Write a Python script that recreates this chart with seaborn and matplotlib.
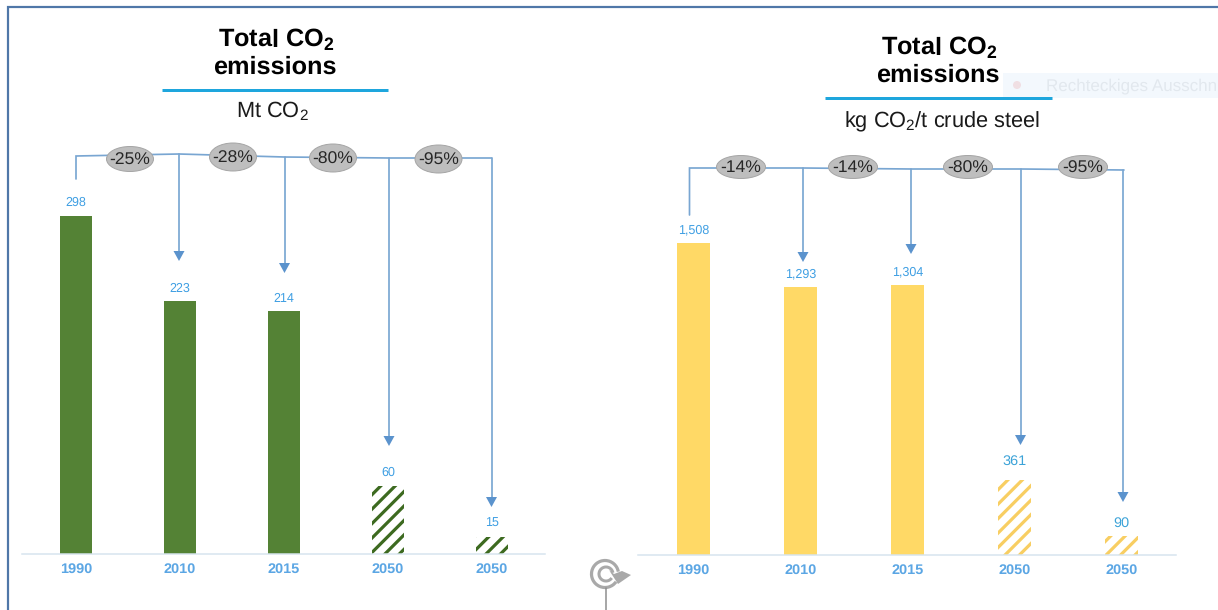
import matplotlib
matplotlib.use("Agg")
import matplotlib.pyplot as plt
from matplotlib.patches import Ellipse, Polygon, Rectangle, Arc
import pandas as pd
import seaborn as sns

# Chart values
years = ["1990", "2010", "2015", "2050", "2050"]
total_mt = [298, 223, 214, 60, 15]
total_labels = ["298", "223", "214", "60", "15"]
intensity_kg = [1508, 1293, 1304, 361, 90]
intensity_labels = ["1,508", "1,293", "1,304", "361", "90"]
is_target = [False, False, False, True, True]
left_changes = ["-25%", "-28%", "-80%", "-95%"]
right_changes = ["-14%", "-14%", "-80%", "-95%"]

W, H, DPI = 1218, 610, 130
BLUE_TEXT = "#3f9fe3"
TICK_BLUE = "#5ba6e4"
LINE_BLUE = "#79a6d2"
HEAD_BLUE = "#5b93cd"
RULE_BLUE = "#1ea6dd"


def pt(px):
    """Convert a size in pixels to points at the figure resolution."""
    return px * 72 / DPI


sns.set_theme(style="white")
plt.rcParams["font.family"] = ["Liberation Sans", "DejaVu Sans"]
plt.rcParams["mathtext.default"] = "regular"
plt.rcParams["hatch.linewidth"] = pt(3.2)
plt.rcParams["text.hinting"] = "no_hinting"

fig = plt.figure(figsize=(W / DPI, H / DPI), dpi=DPI, facecolor="white")


def bar_panel(values, labels, solid, stripe, px_per_unit, first_px, step_px,
              x0, x1, base, top, bar_px, big_targets):
    ax = fig.add_axes([x0 / W, 1 - base / H, (x1 - x0) / W, (base - top) / H])
    df = pd.DataFrame({"slot": range(len(values)), "value": values})
    sns.barplot(data=df, x="slot", y="value", color=solid, saturation=1,
                width=bar_px / step_px, ax=ax, linewidth=0)
    ax.set_xlim((x0 - first_px) / step_px, (x1 - first_px) / step_px)
    ax.set_ylim(0, (base - top) / px_per_unit)
    for patch, target in zip(ax.patches, is_target):
        if target:
            patch.set_facecolor("white")
            patch.set_edgecolor(stripe)
            patch.set_hatch("///")
            patch.set_linewidth(0)
    texts = ax.bar_label(ax.containers[0], labels=labels, padding=pt(7),
                         color=BLUE_TEXT, fontsize=pt(12.5))
    if big_targets:
        for t, target in zip(texts, is_target):
            if target:
                t.set_fontsize(pt(14.5))
                t.set_color("#3ca3d8")
        texts[3].xyann = (0, pt(13))
    ax.set_xticks(range(len(years)))
    ax.set_xticklabels(years, fontsize=pt(14.5), fontweight="bold", color=TICK_BLUE)
    ax.tick_params(axis="x", length=0, pad=pt(8.5))
    ax.set_xlabel("")
    ax.set_ylabel("")
    ax.set_yticks([])
    sns.despine(ax=ax, left=True)
    ax.spines["bottom"].set_color("#d6e4ef")
    ax.spines["bottom"].set_linewidth(pt(1.5))
    ax.patch.set_alpha(0)
    return ax


bar_panel(total_mt, total_labels, "#548235", "#3d6a20", 1.134, 76, 104,
          22, 545, 554, 190, 32.5, False)
bar_panel(intensity_kg, intensity_labels, "#ffd966", "#f8ce62", 0.207, 693.5, 107,
          638, 1176, 555, 200, 33.5, True)

# Pixel-addressed layer for frame, headings and reduction connectors
ov = fig.add_axes([0, 0, 1, 1], zorder=5)
ov.set_xlim(0, W)
ov.set_ylim(H, 0)
ov.axis("off")
ov.patch.set_alpha(0)

# Outer frame
ov.plot([8, 8, W], [H, 7, 7], color="#4f77a8", lw=pt(2.2), solid_joinstyle="miter")

# Faint selection hint in the top right corner
ov.add_patch(Rectangle((1003, 73), 215, 25, facecolor="#f3f8fd", edgecolor="none", zorder=0))
ov.add_patch(Ellipse((1017, 85), 8, 8, facecolor="#f0dfe3", edgecolor="none", zorder=1))
ov.text(1046, 86, "Rechteckiges Ausschn", fontsize=pt(17), color="#e2e8ee",
        va="center", ha="left", zorder=1, clip_on=True)


def heading(cx, y1, y2, rule, rule_y, sub, sub_y, sub_shift):
    ov.text(cx + 1, y1, "Total CO$_2$", ha="center", va="baseline", fontsize=pt(25.2),
            fontweight="bold", color="black")
    ov.text(cx, y2, "emissions", ha="center", va="baseline", fontsize=pt(25.2),
            fontweight="bold", color="black")
    ov.plot(rule, [rule_y, rule_y], color=RULE_BLUE, lw=pt(3), solid_capstyle="butt", zorder=6)
    ov.text(cx + sub_shift, sub_y, sub, ha="center", va="baseline", fontsize=pt(21.8), color="#1a1a1a")


heading(275, 47, 74, [162, 388], 90, "Mt CO$_2$", 117, -3)
heading(938, 55, 82, [825, 1052], 98, "kg CO$_2$/t crude steel", 127, 4)


def connector(trunk_x, trunk_y, path, drops, bubbles, changes, bubble_w, bubble_hs):
    ov.plot([trunk_x, trunk_x, *[p[0] for p in path]],
            [trunk_y, path[0][1], *[p[1] for p in path]],
            color=LINE_BLUE, lw=pt(1.7), solid_joinstyle="miter", zorder=6)
    for (x, y0, tip) in drops:
        ov.plot([x, x], [y0, tip - 9], color=LINE_BLUE, lw=pt(1.7), zorder=6)
        ov.add_patch(Polygon([(x - 5.5, tip - 10), (x + 5.5, tip - 10), (x, tip)],
                             closed=True, facecolor=HEAD_BLUE, edgecolor="none", zorder=6))
    for (cx, cy), text, bh in zip(bubbles, changes, bubble_hs):
        ov.add_patch(Ellipse((cx, cy), bubble_w, bh, facecolor="#bebebe",
                             edgecolor="#a6a6a6", lw=pt(1), zorder=7))
        ov.text(cx, cy + 1, text, ha="center", va="center", fontsize=pt(17.5),
                color="#262626", zorder=8)


connector(76, 179,
          [(76, 156), (179, 154), (284, 157), (389, 158), (491.5, 158)],
          [(179, 154, 261), (284.5, 157, 273), (389, 158, 446), (491.5, 158, 507)],
          [(130, 159), (233, 157), (333, 158), (438.5, 159)], left_changes, 47, [25, 28, 28, 28])
connector(689.5, 215,
          [(689.5, 168), (803, 168), (911, 169), (1021, 169), (1124, 170)],
          [(803, 168, 262), (911, 169, 254), (1020.5, 169, 445), (1123, 170, 502)],
          [(741, 167), (853, 167), (968, 167), (1083, 167)], right_changes, 49, [23, 23, 23, 23])

# Cycle symbol between the two panels
ICON = "#a9a9a9"
ov.add_patch(Arc((605, 574), 27, 27, theta1=35, theta2=350, color=ICON, lw=pt(3.2), zorder=6))
ov.add_patch(Arc((606, 574), 14, 14, theta1=35, theta2=350, color=ICON, lw=pt(3), zorder=6))
ov.add_patch(Polygon([(609, 570), (614, 574), (622, 571), (631, 575), (618, 584)], closed=True,
                     facecolor=ICON, edgecolor="none", zorder=6))
ov.plot([606, 606], [588, H], color="#8c8c8c", lw=pt(1.5), zorder=6)

fig.savefig("out.png", dpi=DPI, facecolor="white")
